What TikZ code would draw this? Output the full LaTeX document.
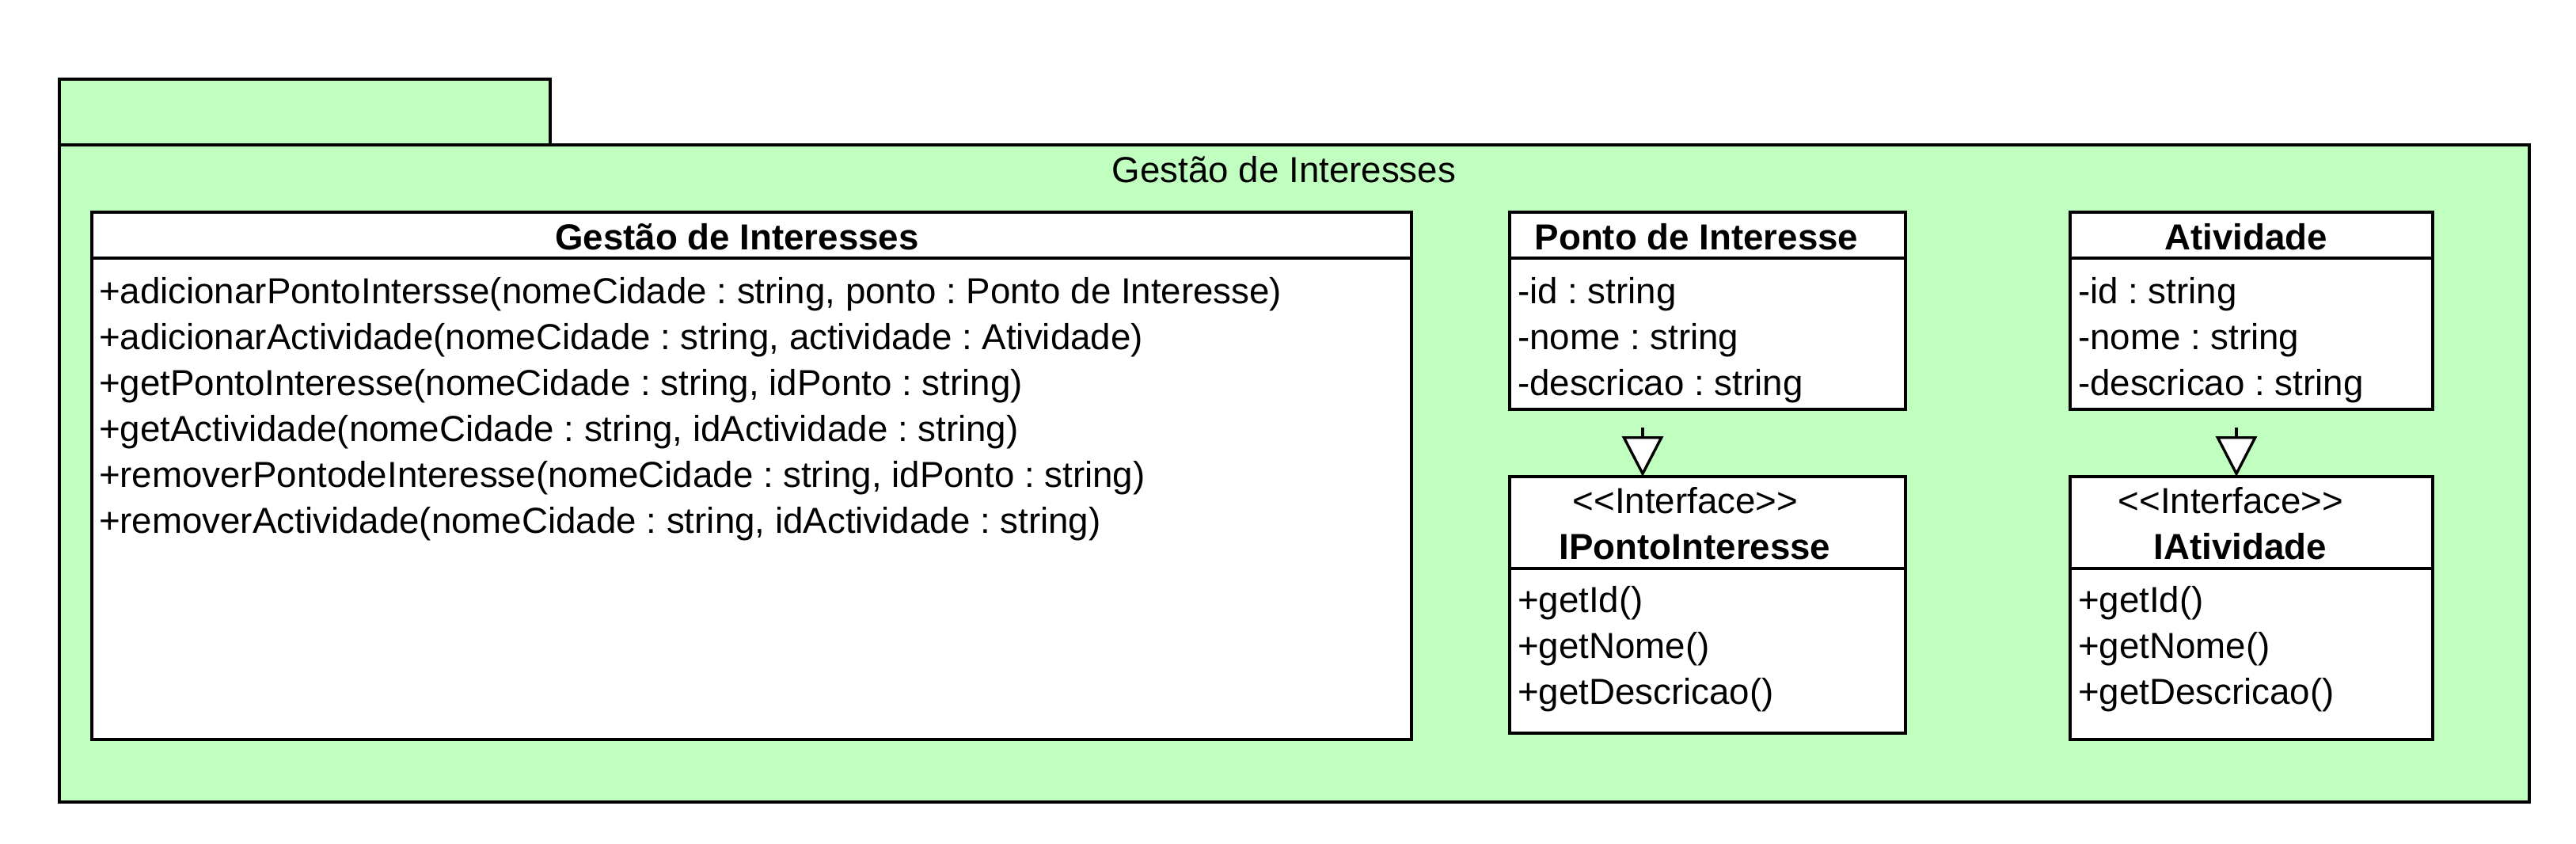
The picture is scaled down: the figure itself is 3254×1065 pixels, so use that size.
\documentclass[tikz,border=0pt]{standalone}
\usepackage{fontspec}
\setmainfont{Liberation Sans}
\frenchspacing
\usetikzlibrary{arrows.meta}
\definecolor{pkggreen}{RGB}{192,255,192}
\begin{document}
\begin{tikzpicture}[x=0.25pt,y=-0.25pt,
  box/.style={draw=black, line width=0.85pt, rectangle, inner sep=0pt, outer sep=0pt, anchor=north west},
  pkgbox/.style={box, fill=pkggreen},
  clsbox/.style={box, fill=white},
  sep/.style={draw=black, line width=0.85pt},
  txt/.style={inner sep=0pt, outer sep=0pt, font=\fontsize{11.42pt}{14pt}\selectfont, text=black},
  ttl/.style={txt, font=\fontsize{11.42pt}{14pt}\selectfont\bfseries, anchor=base},
  realize/.style={draw=black, line width=0.85pt, -{Triangle[width=13pt, length=12.75pt, fill=white]}, shorten <=5.75pt}
]
\fill[white] (0,0) rectangle (3254,1065);
\useasboundingbox (0,0) rectangle (3254,1065);

% package
\node[pkgbox, minimum width=155pt, minimum height=20.75pt] (tab) at (75,100) {};
\node[pkgbox, minimum width=780pt, minimum height=207.5pt] (pkg) at (75,183) {};
\node[txt, anchor=base] (pkgtitle) at (1622,230) {Gestão de Interesses};

% big class
\node[clsbox, minimum width=416.75pt, minimum height=166.5pt] (gi) at (116,268) {};
\draw[sep] ([yshift=-14.5pt]gi.north west) -- ([yshift=-14.5pt]gi.north east);
\node[ttl] (gititle) at (931,315) {Gestão de Interesses};
\node[txt, anchor=base west] (gim1) at (125,383) {+adicionarPontoIntersse(nomeCidade : string, ponto : Ponto de Interesse)};
\node[txt, anchor=base west] (gim2) at (125,441) {+adicionarActividade(nomeCidade : string, actividade : Atividade)};
\node[txt, anchor=base west] (gim3) at (125,499) {+getPontoInteresse(nomeCidade : string, idPonto : string)};
\node[txt, anchor=base west] (gim4) at (125,557) {+getActividade(nomeCidade : string, idActividade : string)};
\node[txt, anchor=base west] (gim5) at (125,615) {+removerPontodeInteresse(nomeCidade : string, idPonto : string)};
\node[txt, anchor=base west] (gim6) at (125,673) {+removerActividade(nomeCidade : string, idActividade : string)};

% Ponto de Interesse
\node[clsbox, minimum width=125pt, minimum height=62.25pt] (ponto) at (1907,268) {};
\draw[sep] ([yshift=-14.5pt]ponto.north west) -- ([yshift=-14.5pt]ponto.north east);
\node[ttl] (pontotitle) at (2143,315) {Ponto de Interesse};
\node[txt, anchor=base west] (pa1) at (1917,383) {-id : string};
\node[txt, anchor=base west] (pa2) at (1917,441) {-nome : string};
\node[txt, anchor=base west] (pa3) at (1917,499) {-descricao : string};

% IPontoInteresse
\node[clsbox, minimum width=125pt, minimum height=81pt] (iponto) at (1907,602) {};
\draw[sep] ([yshift=-29pt]iponto.north west) -- ([yshift=-29pt]iponto.north east);
\node[txt, anchor=base] (ipster) at (2129,648) {<{}<Interface>{}>};
\node[ttl] (iptitle) at (2141,706) {IPontoInteresse};
\node[txt, anchor=base west] (ipm1) at (1917,773) {+getId()};
\node[txt, anchor=base west] (ipm2) at (1917,831) {+getNome()};
\node[txt, anchor=base west] (ipm3) at (1917,889) {+getDescricao()};

% Atividade
\node[clsbox, minimum width=114.5pt, minimum height=62.25pt] (ativ) at (2615,268) {};
\draw[sep] ([yshift=-14.5pt]ativ.north west) -- ([yshift=-14.5pt]ativ.north east);
\node[ttl] (ativtitle) at (2837,315) {Atividade};
\node[txt, anchor=base west] (aa1) at (2625,383) {-id : string};
\node[txt, anchor=base west] (aa2) at (2625,441) {-nome : string};
\node[txt, anchor=base west] (aa3) at (2625,499) {-descricao : string};

% IAtividade
\node[clsbox, minimum width=114.5pt, minimum height=83pt] (iativ) at (2615,602) {};
\draw[sep] ([yshift=-29pt]iativ.north west) -- ([yshift=-29pt]iativ.north east);
\node[txt, anchor=base] (iaster) at (2818,648) {<{}<Interface>{}>};
\node[ttl] (iatitle) at (2830,706) {IAtividade};
\node[txt, anchor=base west] (iam1) at (2625,773) {+getId()};
\node[txt, anchor=base west] (iam2) at (2625,831) {+getNome()};
\node[txt, anchor=base west] (iam3) at (2625,889) {+getDescricao()};

% realizations
\draw[realize] ([xshift=42pt]ponto.south west) -- ([xshift=42pt]iponto.north west);
\draw[realize] ([xshift=52.5pt]ativ.south west) -- ([xshift=52.5pt]iativ.north west);
\end{tikzpicture}
\end{document}
